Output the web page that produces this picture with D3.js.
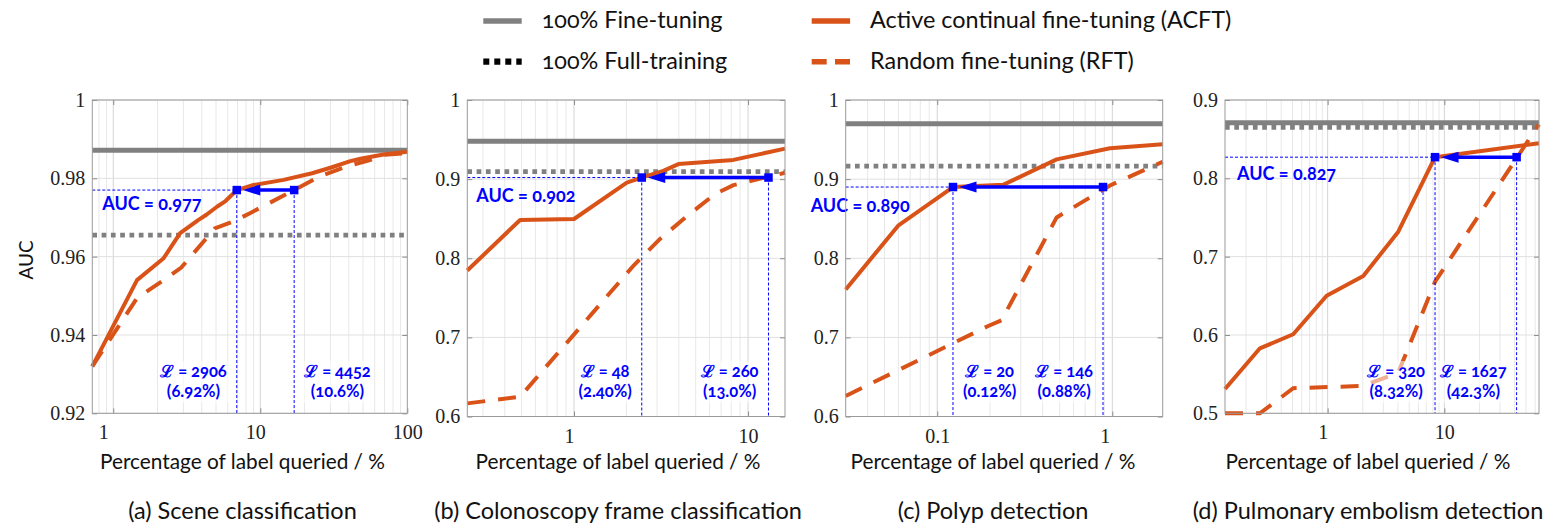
<!DOCTYPE html>
<html>
<head>
<meta charset="utf-8">
<script src="https://cdn.jsdelivr.net/npm/d3@7"></script>
<style>
  body { margin: 0; background: #ffffff; }
  svg { display: block; }
</style>
</head>
<body>
<div id="chart"></div>
<script>
// ---- data ----
const captions = [
  "(a) Scene classification",
  "(b) Colonoscopy  frame classification",
  "(c) Polyp detection",
  "(d) Pulmonary embolism detection"
];
const legendLabels = ["100% Fine-tuning", "100% Full-training", "Active continual fine-tuning (ACFT)", "Random fine-tuning (RFT)"];

const xDomains = [[0.72, 100], [0.2437, 16.3], [0.030, 1.94], [0.132, 64.7]];
const yDomains = [[0.92, 1], [0.6, 1], [0.6, 1], [0.5, 0.9]];
const xTickValues = [[1, 10, 100], [1, 10], [0.1, 1], [1, 10]];
const yTickValues = [
  [0.92, 0.94, 0.96, 0.98, 1],
  [0.6, 0.7, 0.8, 0.9, 1],
  [0.6, 0.7, 0.8, 0.9, 1],
  [0.5, 0.6, 0.7, 0.8, 0.9]
];

// horizontal reference levels (100% labels)
const fineTuneAuc = [0.9872, 0.948, 0.970, 0.871];
const fullTrainAuc = [0.9655, 0.9096, 0.9164, 0.865];

// [percentage queried, AUC]
const acftScene = [[0.72, 0.932], [1.45, 0.954], [2.2, 0.9596], [2.85, 0.966], [3.8, 0.9694], [4.3, 0.9707],
  [5.1, 0.9728], [5.8, 0.9742], [6.92, 0.977], [9, 0.9783], [14.4, 0.9796], [22.5, 0.9813], [30, 0.9827],
  [41, 0.9844], [48, 0.985], [69, 0.9861], [100, 0.9868]];
const rftScene = [[0.72, 0.932], [1.45, 0.9494], [2.2, 0.954], [2.9, 0.9572], [4.9, 0.9672], [6.6, 0.969],
  [8.5, 0.9711], [17, 0.977], [25, 0.9804], [40, 0.9832], [55, 0.9846], [70, 0.986], [100, 0.9864]];

const acftColon = [[0.2437, 0.7845], [0.49, 0.8484], [1.0, 0.8496], [2.01, 0.8957], [2.45, 0.902],
  [3.26, 0.9105], [3.98, 0.919], [8.23, 0.9243], [16.3, 0.9385]];
const rftColon = [[0.2437, 0.6166], [0.49, 0.625], [2.2, 0.7908], [3.12, 0.8244], [4.44, 0.853],
  [6.45, 0.881], [8.23, 0.8924], [16.3, 0.908]];

const acftPolyp = [[0.030, 0.7606], [0.0598, 0.8412], [0.123, 0.890], [0.238, 0.8928], [0.481, 0.925],
  [0.97, 0.939], [1.94, 0.944]];
const rftPolyp = [[0.030, 0.626], [0.1955, 0.7144], [0.233, 0.7215], [0.481, 0.8516], [0.97, 0.892], [1.94, 0.922]];

const acftPE = [[0.132, 0.531], [0.263, 0.583], [0.507, 0.6009], [0.98, 0.650], [2.02, 0.6753],
  [4.03, 0.7319], [8.32, 0.827], [64.7, 0.8447]];
const rftPE = [[0.132, 0.5], [0.263, 0.5], [0.507, 0.532], [2.02, 0.535], [4.03, 0.552], [8.32, 0.668], [64.7, 0.869]];

const acftSeries = [acftScene, acftColon, acftPolyp, acftPE];
const rftSeries = [rftScene, rftColon, rftPolyp, rftPE];

// matched AUC and the queried percentage where each method reaches it
const aucMatched = [0.977, 0.902, 0.890, 0.827];
const acftQueried = [6.92, 2.45, 0.123, 8.32];
const rftQueried = [17.0, 13.1, 0.885, 41.6];
const acftLabels = [["ℒ = 2906", "(6.92%)"], ["ℒ = 48", "(2.40%)"], ["ℒ = 20", "(0.12%)"], ["ℒ = 320", "(8.32%)"]];
const rftLabels = [["ℒ = 4452", "(10.6%)"], ["ℒ = 260", "(13.0%)"], ["ℒ = 146", "(0.88%)"], ["ℒ = 1627", "(42.3%)"]];

// ---- layout ----
const W = 1556, H = 524;
const orange = "#D95319", blue = "#0000FF", gray = "#808080";
const sans = "Lato, 'Open Sans', sans-serif";
const serif = "'Liberation Serif', 'DejaVu Serif', serif";

const panels = [
  {left: 92.3, right: 407.3, top: 100, bottom: 413.3, cx: 242.5, aucDx: 10, aucDy: 19.5, sides: [-1, 1]},
  {left: 467.3, right: 785, top: 100, bottom: 416.5, cx: 618, aucDx: 9, aucDy: 24.3, sides: [-1, -1]},
  {left: 845.7, right: 1162.7, top: 100, bottom: 416.5, cx: 993, aucDx: -35, aucDy: 25, sides: [1, -1]},
  {left: 1225, right: 1539, top: 100, bottom: 413.3, cx: 1368, aucDx: 12, aucDy: 23, sides: [-1, -1]}
];

const svg = d3.select("#chart")
  .append("svg")
  .attr("width", W)
  .attr("height", H)
  .attr("viewBox", [0, 0, W, H]);

// ---- legend ----
const legend = svg.append("g").attr("font-family", sans).attr("font-size", "23.4px").attr("fill", "#111");
const legendItems = [
  {x: 483.3, y: 21, stroke: gray, dash: null, w: 5.5},
  {x: 483.3, y: 61.7, stroke: "#000", dash: "6 5", w: 6.3},
  {x: 811.7, y: 21, stroke: orange, dash: null, w: 5.5},
  {x: 811.7, y: 61.7, stroke: orange, dash: "15 8.3", w: 5.5}
];
legendItems.forEach((it, i) => {
  legend.append("line")
    .attr("x1", it.x).attr("x2", it.x + 38.4)
    .attr("y1", it.y).attr("y2", it.y)
    .attr("stroke", it.stroke)
    .attr("stroke-width", it.w)
    .attr("stroke-dasharray", it.dash);
  legend.append("text")
    .attr("x", it.x + 58.4)
    .attr("y", it.y + 7.2)
    .style("font-variant-numeric", "oldstyle-nums")
    .text(legendLabels[i]);
});

// y axis title (first panel only)
svg.append("text")
  .attr("transform", "translate(33,260) rotate(-90)")
  .attr("text-anchor", "middle")
  .attr("font-family", sans)
  .attr("font-size", "19px")
  .attr("fill", "#111")
  .text("AUC");

panels.forEach((p, i) => {
  const x = d3.scaleLog().domain(xDomains[i]).range([p.left, p.right]);
  const y = d3.scaleLinear().domain(yDomains[i]).range([p.bottom, p.top]);
  const g = svg.append("g");

  // Grid: every 1..9 x 10^k inside the domain, darker at the decades.
  const [x0, x1] = xDomains[i];
  const gridX = [];
  for (let k = Math.floor(Math.log10(x0)); k <= Math.ceil(Math.log10(x1)); k++) {
    for (let m = 1; m <= 9; m++) {
      const v = m * Math.pow(10, k);
      if (v > x0 && v < x1) gridX.push({v, major: m === 1});
    }
  }
  g.selectAll(".gx").data(gridX).join("line")
    .attr("x1", d => x(d.v)).attr("x2", d => x(d.v))
    .attr("y1", p.top).attr("y2", p.bottom)
    .attr("stroke", d => d.major ? "#d4d4d4" : "#e8e8e8")
    .attr("stroke-width", 1);
  g.selectAll(".gy").data(yTickValues[i]).join("line")
    .attr("x1", p.left).attr("x2", p.right)
    .attr("y1", d => y(d)).attr("y2", d => y(d))
    .attr("stroke", "#e0e0e0")
    .attr("stroke-width", 1);

  // Axes with inward ticks.
  const yAxis = g.append("g")
    .attr("transform", `translate(${p.left},0)`)
    .call(d3.axisLeft(y).tickValues(yTickValues[i]).tickFormat(d => String(d)).tickSize(-5).tickPadding(7));
  g.append("g")
    .attr("transform", `translate(${p.right},0)`)
    .call(d3.axisRight(y).tickValues(yTickValues[i]).tickFormat("").tickSize(-5));
  const xAxis = g.append("g")
    .attr("transform", `translate(0,${p.bottom})`)
    .call(d3.axisBottom(x).tickValues(xTickValues[i]).tickFormat(d => String(d)).tickSize(-5).tickPadding(12));
  g.append("g")
    .attr("transform", `translate(0,${p.top})`)
    .call(d3.axisTop(x).tickValues(xTickValues[i]).tickFormat("").tickSize(-5));
  g.selectAll(".domain").remove();
  g.selectAll(".tick line").attr("stroke", "#8c8c8c");
  [yAxis, xAxis].forEach(a => a.selectAll("text")
    .attr("font-family", serif)
    .attr("font-size", "20px")
    .attr("fill", "#222"));
  // x tick labels are left aligned inside a box as wide as the widest label
  const xTexts = xAxis.selectAll("text");
  const maxW = d3.max(xTexts.nodes(), n => n.getComputedTextLength());
  xTexts.attr("text-anchor", "start").attr("x", -maxW / 2);

  // Reference levels.
  g.append("line")
    .attr("x1", p.left).attr("x2", p.right)
    .attr("y1", y(fullTrainAuc[i])).attr("y2", y(fullTrainAuc[i]))
    .attr("stroke", gray).attr("stroke-width", 4.7)
    .attr("stroke-dasharray", "4.7 4.6");
  g.append("line")
    .attr("x1", p.left).attr("x2", p.right)
    .attr("y1", y(fineTuneAuc[i])).attr("y2", y(fineTuneAuc[i]))
    .attr("stroke", gray).attr("stroke-width", 5);

  // Curves.
  const line = d3.line().x(d => x(d[0])).y(d => y(d[1]));
  g.append("path")
    .datum(rftSeries[i])
    .attr("fill", "none")
    .attr("stroke", orange)
    .attr("stroke-width", 4)
    .attr("stroke-dasharray", "18 13")
    .attr("d", line);
  g.append("path")
    .datum(acftSeries[i])
    .attr("fill", "none")
    .attr("stroke", orange)
    .attr("stroke-width", 4)
    .attr("stroke-linejoin", "round")
    .attr("d", line);

  // Blue annotation: guide lines, arrow and markers.
  const ya = y(aucMatched[i]);
  const xa = x(acftQueried[i]);
  const xr = x(rftQueried[i]);
  const ann = g.append("g");
  ann.append("line")
    .attr("x1", p.left).attr("x2", xa)
    .attr("y1", ya).attr("y2", ya)
    .attr("stroke", blue).attr("stroke-width", 1).attr("stroke-dasharray", "3 2");
  [xa, xr].forEach(xx => {
    ann.append("line")
      .attr("x1", xx).attr("x2", xx)
      .attr("y1", ya).attr("y2", p.bottom)
      .attr("stroke", blue).attr("stroke-width", 1).attr("stroke-dasharray", "3 2");
  });
  ann.append("line")
    .attr("x1", xr).attr("x2", xa + 20)
    .attr("y1", ya).attr("y2", ya)
    .attr("stroke", blue).attr("stroke-width", 3.5);
  ann.append("path")
    .attr("d", `M${xa + 6},${ya} L${xa + 23.5},${ya - 5.5} L${xa + 23.5},${ya + 5.5} Z`)
    .attr("fill", blue);
  [xa, xr].forEach(xx => {
    ann.append("rect")
      .attr("x", xx - 4.25).attr("y", ya - 4.25)
      .attr("width", 8.5).attr("height", 8.5)
      .attr("fill", blue);
  });

  ann.append("text")
    .attr("x", p.left + p.aucDx)
    .attr("y", ya + p.aucDy)
    .attr("font-family", sans)
    .attr("font-size", "18px")
    .attr("font-weight", "bold")
    .attr("fill", blue)
    .style("font-variant-numeric", "oldstyle-nums")
    .text(`AUC = ${d3.format(".3f")(aucMatched[i])}`);

  // Query-count labels beside each vertical guide.
  [[xa, acftLabels[i], p.sides[0]], [xr, rftLabels[i], p.sides[1]]].forEach(([xx, lines, side]) => {
    const lg = ann.append("g");
    const bg = lg.append("rect").attr("fill", "#ffffff").attr("fill-opacity", 0.55);
    const texts = lines.map((t, j) => lg.append("text")
      .attr("y", 377 + j * 20.3)
      .attr("text-anchor", "middle")
      .attr("font-family", sans)
      .attr("font-size", "16.5px")
      .attr("font-weight", "bold")
      .attr("fill", blue)
      .style("font-variant-numeric", "oldstyle-nums")
      .text(t));
    const w = d3.max(texts, t => t.node().getComputedTextLength());
    const cx = xx + side * (10 + w / 2);
    texts.forEach(t => t.attr("x", cx));
    bg.attr("x", cx - w / 2 - 2).attr("y", 361).attr("width", w + 4).attr("height", 42);
  });

  // Box.
  g.append("rect")
    .attr("x", p.left).attr("y", p.top)
    .attr("width", p.right - p.left).attr("height", p.bottom - p.top)
    .attr("fill", "none")
    .attr("stroke", "#9a9a9a")
    .attr("stroke-width", 1);

  // Axis title and caption.
  svg.append("text")
    .attr("x", p.cx).attr("y", 469)
    .attr("text-anchor", "middle")
    .attr("font-family", sans)
    .attr("font-size", "20.8px")
    .attr("fill", "#111")
    .text("Percentage of label queried / %");
  svg.append("text")
    .attr("x", p.cx).attr("y", 518.5)
    .attr("text-anchor", "middle")
    .attr("font-family", sans)
    .attr("font-size", "23.5px")
    .attr("fill", "#111")
    .text(captions[i]);
});
</script>
</body>
</html>
